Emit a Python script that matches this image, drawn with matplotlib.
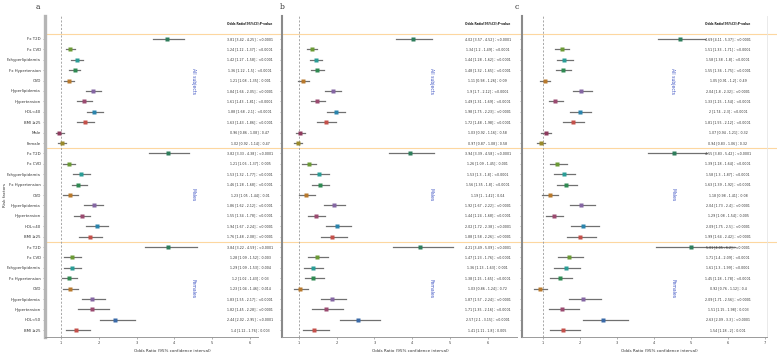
import matplotlib.pyplot as plt
import matplotlib.transforms as mtransforms
from matplotlib.lines import Line2D

# row labels, top to bottom
factors = ['Fx T2D', 'Fx CVD', 'Fxhyperlipidemia', 'Fx Hypertension', 'CVD',
           'Hyperlipidemia', 'Hypertension', 'HDL<40', 'BMI ≥25', 'Male', 'Female',
           'Fx T2D', 'Fx CVD', 'Fxhyperlipidemia', 'Fx Hypertension', 'CVD',
           'Hyperlipidemia', 'Hypertension', 'HDL<40', 'BMI ≥25',
           'Fx T2D', 'Fx CVD', 'Fxhyperlipidemia', 'Fx Hypertension', 'CVD',
           'Hyperlipidemia', 'Hypertension', 'HDL<50', 'BMI ≥25']
groups = ['All subjects', 'Males', 'Females']

colors = {'Fx T2D': '#2e7d5b', 'Fx CVD': '#6b9a35', 'Fxhyperlipidemia': '#2a9d96',
          'Fx Hypertension': '#2f8a52', 'CVD': '#b8792c', 'Hyperlipidemia': '#8566a3',
          'Hypertension': '#9b4a70', 'HDL<40': '#2a84ad', 'HDL<50': '#3a6aa8',
          'BMI ≥25': '#c4504a', 'Male': '#8e3a5e', 'Female': '#9a8a2a'}

# panel a
or_a = [3.81, 1.24, 1.42, 1.36, 1.21, 1.84, 1.61, 1.88, 1.63, 0.96, 1.02,
        3.82, 1.21, 1.53, 1.46, 1.23, 1.86, 1.55, 1.94, 1.76,
        3.84, 1.28, 1.29, 1.2, 1.23, 1.83, 1.82, 2.44, 1.4]
lo_a = [3.42, 1.12, 1.27, 1.22, 1.08, 1.66, 1.43, 1.68, 1.43, 0.86, 0.92,
        3.33, 1.06, 1.32, 1.28, 1.05, 1.62, 1.34, 1.67, 1.48,
        3.22, 1.09, 1.09, 1.02, 1.04, 1.55, 1.45, 2.02, 1.12]
hi_a = [4.25, 1.37, 1.58, 1.5, 1.35, 2.05, 1.81, 2.1, 1.86, 1.08, 1.14,
        4.38, 1.37, 1.77, 1.68, 1.44, 2.12, 1.78, 2.24, 2.08,
        4.59, 1.52, 1.53, 1.43, 1.46, 2.17, 2.28, 2.95, 1.76]
p_a = ['<0.0001', '<0.0001', '<0.0001', '<0.0001', '0.001', '<0.0001', '<0.0001', '<0.0001', '<0.0001', '0.47', '0.47',
       '<0.0001', '0.005', '<0.0001', '<0.0001', '0.01', '<0.0001', '<0.0001', '<0.0001', '<0.0001',
       '<0.0001', '0.003', '0.004', '0.03', '0.014', '<0.0001', '<0.0001', '<0.0001', '0.003']

# panel b
or_b = [4.02, 1.34, 1.44, 1.48, 1.11, 1.9, 1.49, 1.98, 1.72, 1.03, 0.97,
        3.94, 1.26, 1.53, 1.56, 1.19, 1.92, 1.44, 2.02, 1.88,
        4.21, 1.47, 1.36, 1.38, 1.03, 1.87, 1.71, 2.57, 1.41]
lo_b = [3.57, 1.2, 1.28, 1.32, 0.98, 1.7, 1.31, 1.75, 1.48, 0.92, 0.87,
        3.39, 1.09, 1.3, 1.35, 1, 1.67, 1.24, 1.72, 1.58,
        3.49, 1.23, 1.13, 1.15, 0.86, 1.57, 1.35, 2.1, 1.11]
hi_b = [4.52, 1.49, 1.62, 1.65, 1.26, 2.12, 1.69, 2.23, 1.98, 1.16, 1.08,
        4.58, 1.45, 1.8, 1.8, 1.42, 2.22, 1.68, 2.38, 2.26,
        5.09, 1.76, 1.63, 1.65, 1.24, 2.24, 2.16, 3.15, 1.8]
p_b = ['<0.0001', '<0.0001', '<0.0001', '<0.0001', '0.09', '<0.0001', '<0.0001', '<0.0001', '<0.0001', '0.58', '0.58',
       '<0.0001', '0.001', '<0.0001', '<0.0001', '0.04', '<0.0001', '<0.0001', '<0.0001', '<0.0001',
       '<0.0001', '<0.0001', '0.001', '<0.0001', '0.72', '<0.0001', '<0.0001', '<0.0001', '0.005']

# panel c
or_c = [4.69, 1.51, 1.58, 1.55, 1.05, 2.04, 1.33, 2, 1.81, 1.07, 0.94,
        4.55, 1.39, 1.58, 1.63, 1.18, 2.04, 1.29, 2.09, 1.99,
        5.01, 1.71, 1.61, 1.45, 0.92, 2.09, 1.51, 2.63, 1.54]
lo_c = [4.11, 1.33, 1.38, 1.36, 0.91, 1.8, 1.15, 1.74, 1.55, 0.94, 0.83,
        3.83, 1.18, 1.3, 1.39, 0.98, 1.73, 1.08, 1.75, 1.64,
        4.05, 1.4, 1.3, 1.18, 0.76, 1.71, 1.15, 2.09, 1.18]
hi_c = [5.37, 1.71, 1.8, 1.75, 1.2, 2.32, 1.54, 2.3, 2.12, 1.21, 1.06,
        5.42, 1.64, 1.87, 1.92, 1.41, 2.4, 1.54, 2.5, 2.42,
        6.2, 2.09, 1.99, 1.78, 1.12, 2.56, 1.98, 3.3, 2]
p_c = ['<0.0001', '<0.0001', '<0.0001', '<0.0001', '0.49', '<0.0001', '<0.0001', '<0.0001', '<0.0001', '0.32', '0.32',
       '<0.0001', '<0.0001', '<0.0001', '<0.0001', '0.08', '<0.0001', '0.005', '<0.0001', '<0.0001',
       '<0.0001', '<0.0001', '<0.0001', '<0.0001', '0.4', '<0.0001', '0.003', '<0.0001', '0.001']

W, H = 777, 359
fig = plt.figure(figsize=(W / 100, H / 100), dpi=100)


def box(x0, x1, top, bottom):
    return [x0 / W, 1 - bottom / H, (x1 - x0) / W, (bottom - top) / H]


panels = [
    ('a', 38, box(45, 258, 16, 337), (0.577, 6.21), range(1, 7), 0.596, (or_a, lo_a, hi_a, p_a)),
    ('b', 282, box(282, 517, 16, 337), (0.549, 6.78), range(1, 7), 0.545, (or_b, lo_b, hi_b, p_b)),
    ('c', 517, box(522, 767, 16, 337), (0.432, 7.054), range(1, 8), 0.559, (or_c, lo_c, hi_c, p_c)),
]

rows = list(range(len(factors)))
group_rows = [4, 15, 24]
sep_rows = [-0.5, 10.5, 19.5]

axes = []
for letter, lx, pos, xlim, xt, xlab_pos, (ors, los, his, ps) in panels:
    ax = fig.add_axes(pos)
    axes.append(ax)
    ax.set_xlim(*xlim)
    ax.set_ylim(28.65, -2.21)
    ax.axvline(1, color='#9a9a9a', lw=0.6, ls=(0, (2.5, 2)), zorder=1)

    for i in rows:
        ax.plot([los[i], his[i]], [i, i], color='#707070', lw=0.9, zorder=2)
        ax.plot(ors[i], i, marker='s', ms=2.3, color=colors[factors[i]], mec='none', zorder=3)
        txt = f'{ors[i]:g} [{los[i]:g} , {his[i]:g}] ; {ps[i]}'
        ax.text(6, i, txt, ha='center', va='center', fontsize=2.3, color='#333333')

    ax.text(6, -1.44, 'Odds Ratio[95%CI];P-value', ha='center', va='center',
            fontsize=2.2, fontweight='bold', color='#222222')
    for g, r in zip(groups, group_rows):
        ax.text(4.5, r, g, rotation=270, ha='center', va='center', fontsize=3.3, color='#4257c4')

    ax.set_yticks(rows)
    if letter == 'a':
        ax.set_yticklabels(factors, fontsize=2.8, color='#333333')
        ax.spines['left'].set_color('#b5b5b5')
        ax.spines['left'].set_linewidth(2.4)
    else:
        ax.set_yticklabels([])
        ax.spines['left'].set_color('#8a8a8a')
        ax.spines['left'].set_linewidth(1.5)
    ax.set_xticks(list(xt))
    ax.set_xticklabels([str(v) for v in xt], fontsize=2.6, color='#444444')
    ax.tick_params(axis='both', length=1.5, width=0.4, color='#777777', pad=1.5)
    ax.spines['top'].set_visible(False)
    ax.spines['bottom'].set_color('#9a9a9a')
    ax.spines['bottom'].set_linewidth(0.7)
    if letter == 'c':
        ax.spines['right'].set_color('#e6e6e6')
        ax.spines['right'].set_linewidth(0.6)
    else:
        ax.spines['right'].set_visible(False)
    ax.patch.set_alpha(0)

    ax.set_xlabel('Odds Ratio (95% confidence interval)', fontsize=3, color='#333333')
    ax.xaxis.set_label_coords(xlab_pos, -0.038)

    fig.text(lx / W, 1 - 7 / H, letter, ha='center', va='center', fontsize=5.5,
             family='DejaVu Serif', color='#333333')

# orange separators across all panels
trans = mtransforms.blended_transform_factory(fig.transFigure, axes[0].transData)
for y in sep_rows:
    fig.add_artist(Line2D([45 / W, 1], [y, y], transform=trans, color='#fdd7a0', lw=0.8, zorder=0))

fig.text(5 / W, 1 - 195 / H, 'Risk factors', rotation=90, ha='center', va='center',
         fontsize=3, color='#333333')

fig.savefig('out.png', dpi=100)
